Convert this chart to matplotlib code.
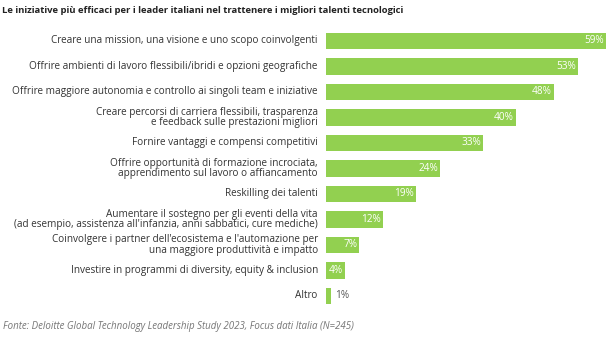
import numpy as np
import matplotlib.pyplot as plt
from matplotlib import font_manager as fm

# use the static Open Sans files
def open_sans(fname):
    for f in fm.fontManager.ttflist:
        if f.fname.endswith(fname):
            return fm.FontProperties(fname=f.fname)
    return fm.FontProperties(family='DejaVu Sans')

reg = open_sans('OpenSans-Regular.ttf')
bold = open_sans('OpenSans-Bold.ttf')
ital = open_sans('OpenSans-Italic.ttf')

labels = [
    "Creare una mission, una visione e uno scopo coinvolgenti",
    "Offrire ambienti di lavoro flessibili/ibridi e opzioni geografiche",
    "Offrire maggiore autonomia e controllo ai singoli team e iniziative",
    "Creare percorsi di carriera flessibili, trasparenza\ne feedback sulle prestazioni migliori",
    "Fornire vantaggi e compensi competitivi",
    "Offrire opportunità di formazione incrociata,\napprendimento sul lavoro o affiancamento",
    "Reskilling dei talenti",
    "Aumentare il sostegno per gli eventi della vita\n(ad esempio, assistenza all'infanzia, anni sabbatici, cure mediche)",
    "Coinvolgere i partner dell'ecosistema e l'automazione per\nuna maggiore produttività e impatto",
    "Investire in programmi di diversity, equity & inclusion",
    "Altro",
]
values = [59, 53, 48, 40, 33, 24, 19, 12, 7, 4, 1]

green = '#92D050'
text_col = '#333333'

fig = plt.figure(figsize=(6.08, 3.40), dpi=100)
ax = fig.add_axes([0.536, 0.092, 0.461, 0.825])

y = np.arange(len(values))
ax.barh(y, values, height=0.63, color=green)
ax.set_ylim(len(values) - 0.5, -0.5)
ax.set_xlim(0, 59)
ax.axis('off')

for i, (lab, v) in enumerate(zip(labels, values)):
    ax.text(-1.7, i, lab, ha='right', va='center', fontproperties=reg,
            fontsize=7.2, color=text_col, linespacing=0.95)
    if v >= 4:
        ax.text(v - 0.4, i, f'{v}%', ha='right', va='center',
                fontproperties=reg, fontsize=7.2, color='white')
    else:
        ax.text(v + 1.0, i, f'{v}%', ha='left', va='center',
                fontproperties=reg, fontsize=7.2, color='#555555')

fig.text(0.003, 0.968, 'Le iniziative più efficaci per i leader italiani nel trattenere i migliori talenti tecnologici',
         ha='left', va='center', fontproperties=bold, fontsize=6.8, color='#222222')
fig.text(0.005, 0.04, 'Fonte: Deloitte Global Technology Leadership Study 2023, Focus dati Italia (N=245)',
         ha='left', va='center', fontproperties=ital, fontsize=7.0, color='#777777')

fig.savefig('out.png', dpi=100)
